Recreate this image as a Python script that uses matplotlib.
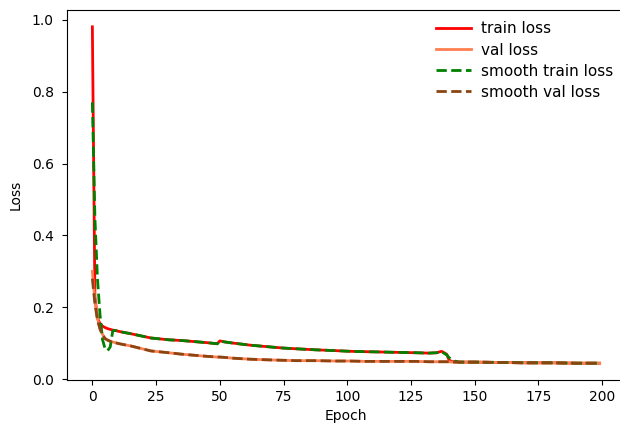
import matplotlib
matplotlib.use("Agg")
import matplotlib.pyplot as plt

epochs = [0, 1, 2, 3, 4, 5, 6, 7, 8, 9, 10, 12, 15, 19, 23, 30, 35, 40, 45, 49, 50, 52,
          55, 62, 70, 75, 80, 88, 95, 101, 107, 114, 120, 127, 132, 135, 137, 139, 140,
          141, 142, 144, 150, 160, 170, 175, 180, 190, 199]

train_loss = [0.98, 0.23, 0.17, 0.155, 0.148, 0.144, 0.141, 0.139, 0.137, 0.136, 0.134,
              0.131, 0.127, 0.121, 0.115, 0.110, 0.108, 0.105, 0.102, 0.099, 0.107, 0.104,
              0.101, 0.095, 0.090, 0.087, 0.085, 0.082, 0.080, 0.078, 0.077, 0.076, 0.075,
              0.074, 0.073, 0.074, 0.078, 0.070, 0.053, 0.050, 0.049, 0.048, 0.048, 0.047,
              0.046, 0.046, 0.046, 0.045, 0.045]

val_loss = [0.30, 0.22, 0.17, 0.14, 0.125, 0.114, 0.109, 0.106, 0.104, 0.102, 0.100,
            0.097, 0.093, 0.086, 0.079, 0.074, 0.070, 0.067, 0.064, 0.062, 0.062, 0.061,
            0.059, 0.056, 0.054, 0.053, 0.052, 0.052, 0.051, 0.051, 0.050, 0.050, 0.050,
            0.050, 0.049, 0.049, 0.049, 0.049, 0.049, 0.048, 0.048, 0.048, 0.048, 0.047,
            0.046, 0.046, 0.046, 0.045, 0.045]

smooth_train_loss = [0.77, 0.45, 0.28, 0.18, 0.11, 0.085, 0.080, 0.090, 0.135, 0.136, 0.134,
                     0.131, 0.127, 0.121, 0.115, 0.110, 0.108, 0.105, 0.102, 0.099, 0.106, 0.104,
                     0.101, 0.095, 0.090, 0.087, 0.085, 0.082, 0.080, 0.078, 0.077, 0.076, 0.075,
                     0.074, 0.073, 0.074, 0.077, 0.068, 0.060, 0.055, 0.051, 0.048, 0.048, 0.047,
                     0.046, 0.046, 0.046, 0.045, 0.045]

smooth_val_loss = [0.28, 0.21, 0.165, 0.14, 0.123, 0.113, 0.109, 0.106, 0.104, 0.102, 0.100,
                   0.097, 0.093, 0.086, 0.079, 0.074, 0.070, 0.067, 0.064, 0.062, 0.062, 0.061,
                   0.059, 0.056, 0.054, 0.053, 0.052, 0.052, 0.051, 0.051, 0.050, 0.050, 0.050,
                   0.050, 0.049, 0.049, 0.049, 0.049, 0.049, 0.048, 0.048, 0.048, 0.048, 0.047,
                   0.046, 0.046, 0.046, 0.045, 0.045]

fig = plt.figure(figsize=(6.2, 4.23), dpi=100)
ax = fig.add_axes([67 / 620, 1 - 380 / 423, (625 - 67) / 620, (380 - 10) / 423])

ax.plot(epochs, train_loss, color='red', linewidth=2, label='train loss')
ax.plot(epochs, val_loss, color='coral', linewidth=2, label='val loss')
ax.plot(epochs, smooth_train_loss, color='green', linestyle='--', linewidth=2,
        label='smooth train loss')
ax.plot(epochs, smooth_val_loss, color='#8B4513', linestyle='--', linewidth=2,
        label='smooth val loss')

ax.set_xticks([0, 25, 50, 75, 100, 125, 150, 175, 200])
ax.set_yticks([0.0, 0.2, 0.4, 0.6, 0.8, 1.0])
ax.tick_params(axis='y', pad=6)
ax.set_xlabel('Epoch')
ax.set_ylabel('Loss', labelpad=6.5)
ax.spines['right'].set_visible(False)
ax.legend(loc='upper right', frameon=False, fontsize=11, handlelength=2.3,
          handletextpad=0.65, labelspacing=0.4, borderaxespad=0.35)

fig.savefig('out.png', dpi=100)
